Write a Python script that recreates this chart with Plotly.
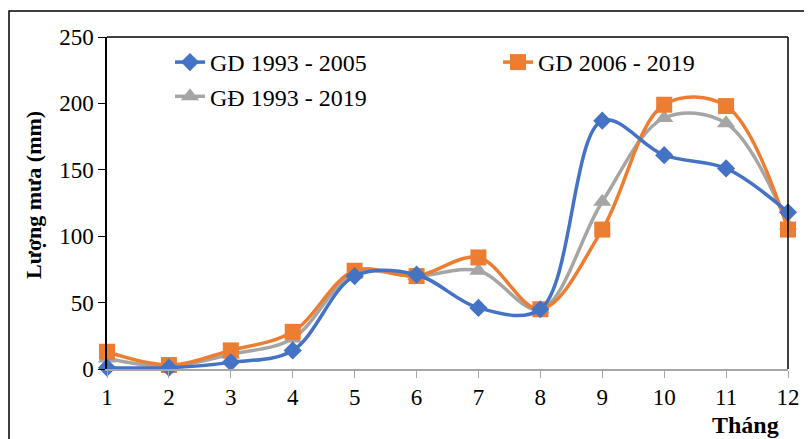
import plotly.graph_objects as go

months = [1, 2, 3, 4, 5, 6, 7, 8, 9, 10, 11, 12]
gd_1993_2005 = [1, 1, 5, 14, 70, 71, 46, 45, 187, 161, 151, 118]
gd_2006_2019 = [13, 3, 14, 28, 74, 70, 84, 45, 105, 199, 198, 105]
gd_1993_2019 = [8, 2, 11, 23, 72, 70, 74, 45, 126, 189, 185, 108]

names = ["GD 1993 - 2005", "GD 2006 - 2019", "GĐ 1993 - 2019"]
colors = ["#4472C4", "#ED7D31", "#A5A5A5"]
symbols = ["diamond", "square", "triangle-up"]
msizes = [14, 16, 16]
legends = ["legend", "legend2", "legend"]

# page has an 8px body margin; work in reference-window pixel coordinates
OFF = 8
W, H = 812 - OFF, 439 - OFF
PL, PR, PT, PB = 107, 788, 37, 369  # plot area in reference pixels
L, T = PL - OFF, PT - OFF
R = W - (PR - OFF)
B = H - (PB - OFF)
pw = PR - PL
ph = PB - PT

fig = go.Figure()
for name, ys, c, s, ms, lg in zip(names, [gd_1993_2005, gd_2006_2019, gd_1993_2019],
                                 colors, symbols, msizes, legends):
    fig.add_trace(go.Scatter(
        x=months, y=ys, name=name, mode="lines+markers",
        line=dict(color=c, width=3.5, shape="spline", smoothing=1.0),
        marker=dict(symbol=s, size=ms, color=c),
        legend=lg, cliponaxis=False,
    ))

fig.data = (fig.data[2], fig.data[1], fig.data[0])

def px_x(x):
    return (x - PL) / pw

def px_y(y):
    return (PB - y) / ph

fig.update_layout(
    width=W, height=H,
    margin=dict(l=L, r=R, t=T, b=B, autoexpand=False),
    paper_bgcolor="white", plot_bgcolor="white",
    font=dict(family="Liberation Serif", color="black"),
    showlegend=True,
    legend=dict(x=px_x(170), y=px_y(40), xanchor="left", yanchor="top",
                bgcolor="rgba(0,0,0,0)", font=dict(size=24, family="Liberation Serif"),
                traceorder="reversed", tracegroupgap=0),
    legend2=dict(x=px_x(498), y=px_y(40), xanchor="left", yanchor="top",
                 bgcolor="rgba(0,0,0,0)", font=dict(size=24, family="Liberation Serif")),
    xaxis=dict(range=[1, 12], tickmode="array", tickvals=months,
               ticktext=[str(m) for m in months],
               showgrid=False, zeroline=False, showline=True, linecolor="#A6A6A6",
               linewidth=1.5, ticks="outside", ticklen=7, tickcolor="#A6A6A6",
               tickfont=dict(size=23, family="Liberation Serif", color="black")),
    yaxis=dict(range=[0, 250], tickvals=[0, 50, 100, 150, 200, 250],
               showgrid=False, zeroline=False, showline=True, linecolor="black",
               linewidth=1.5, ticks="outside", ticklen=7, tickcolor="black",
               tickfont=dict(size=23, family="Liberation Serif", color="black")),
)

fig.add_shape(type="line", xref="paper", yref="paper", x0=0, x1=1, y0=1, y1=1,
              line=dict(color="black", width=1.5))
fig.add_shape(type="line", xref="paper", yref="paper", x0=1, x1=1, y0=0, y1=1,
              line=dict(color="black", width=1.5))
fig.add_shape(type="rect", xref="paper", yref="paper",
              x0=px_x(9), x1=px_x(830), y0=px_y(460), y1=px_y(11),
              line=dict(color="black", width=1.5), layer="below")

fig.add_annotation(text="<b>Lượng mưa (mm)</b>", xref="paper", yref="paper",
                   x=px_x(33), y=px_y(195), textangle=-90, showarrow=False,
                   xanchor="center", yanchor="middle",
                   font=dict(size=22, family="Liberation Serif"))
fig.add_annotation(text="<b>Tháng</b>", xref="paper", yref="paper",
                   x=px_x(745), y=px_y(425), showarrow=False,
                   xanchor="center", yanchor="middle",
                   font=dict(size=24, family="Liberation Serif"))

fig.write_html("out.html")
